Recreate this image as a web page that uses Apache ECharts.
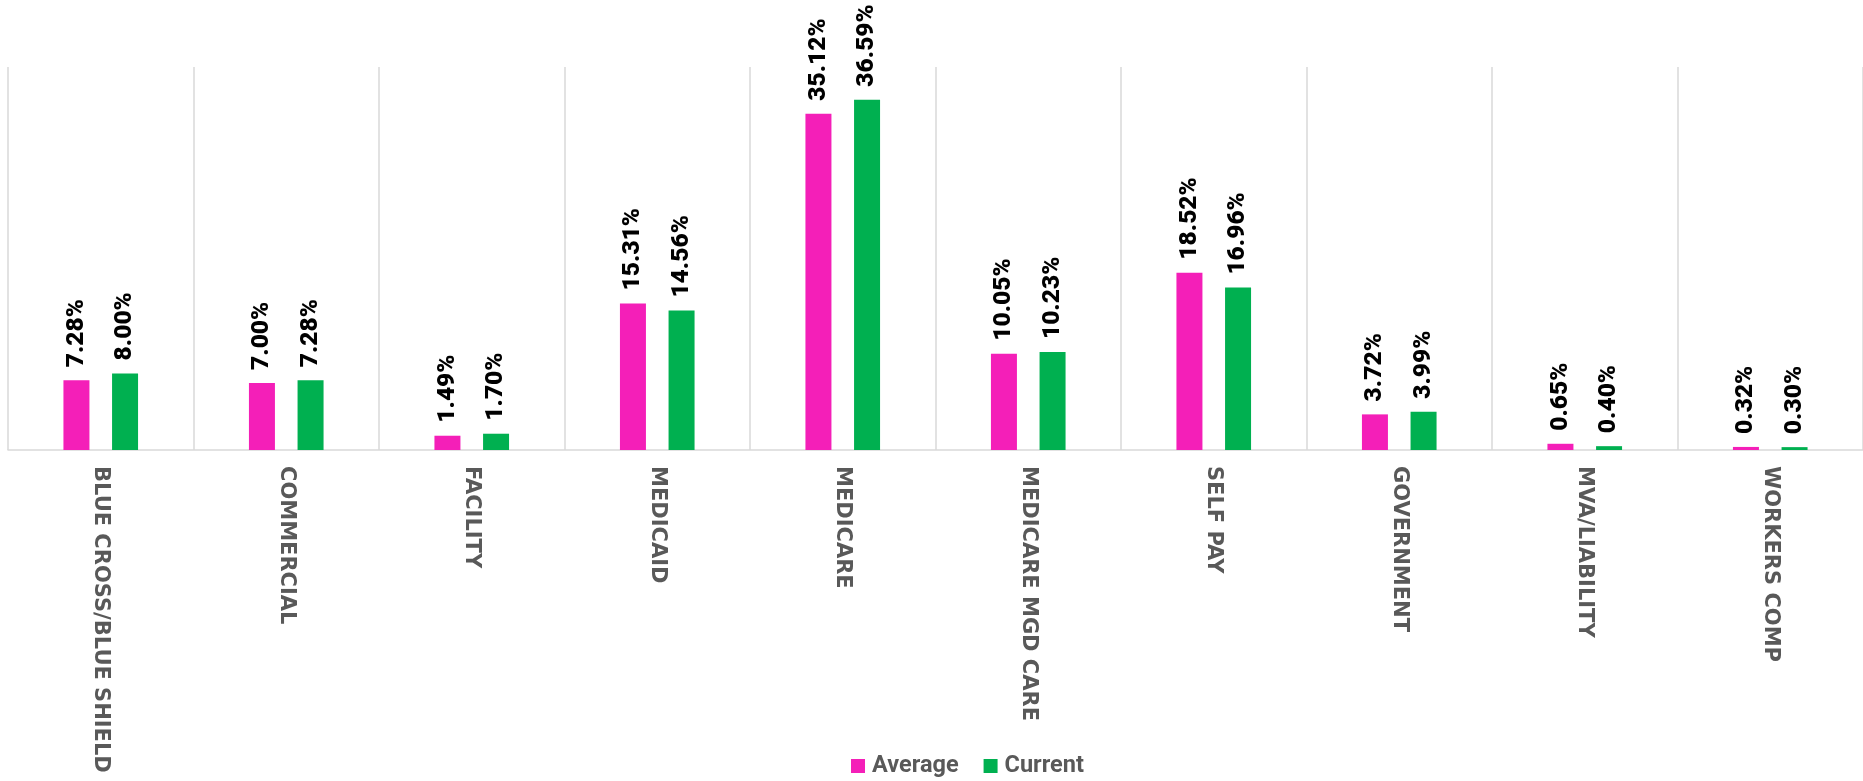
<!DOCTYPE html>
<html>
<head>
<meta charset="utf-8">
<script src="https://cdn.jsdelivr.net/npm/echarts@6/dist/echarts.min.js"></script>
<style>
html,body{margin:0;padding:0;background:#fff;}
#chart{width:1863px;height:781px;}
</style>
</head>
<body>
<div id="chart"></div>
<script>
const categories = ['BLUE CROSS/BLUE SHIELD','COMMERCIAL','FACILITY','MEDICAID','MEDICARE','MEDICARE MGD CARE','SELF PAY','GOVERNMENT','MVA/LIABILITY','WORKERS COMP'];
const averageValues = [7.28, 7.00, 1.49, 15.31, 35.12, 10.05, 18.52, 3.72, 0.65, 0.32];
const currentValues = [8.00, 7.28, 1.70, 14.56, 36.59, 10.23, 16.96, 3.99, 0.40, 0.30];
const seriesNames = ['Average', 'Current'];

const dataLabel = {
  show: true,
  position: 'top',
  rotate: 90,
  align: 'left',
  verticalAlign: 'middle',
  distance: 13,
  formatter: p => p.value.toFixed(2) + '%',
  fontFamily: "Roboto,'Liberation Sans',sans-serif",
  fontWeight: 900,
  fontSize: 24.5,
  color: '#000'
};

const chart = echarts.init(document.getElementById('chart'), null, {renderer: 'canvas'});
chart.setOption({
  animation: false,
  backgroundColor: '#fff',
  grid: {left: 8, top: 67, width: 1857, height: 383, containLabel: false},
  legend: {
    data: seriesNames,
    left: 846,
    top: 749,
    itemWidth: 14,
    itemHeight: 14,
    itemGap: 25,
    icon: 'rect',
    textStyle: {fontFamily: "Roboto,sans-serif", fontWeight: 'bold', fontSize: 23.5, color: '#595959', padding: [0,0,0,2]}
  },
  xAxis: {
    type: 'category',
    data: categories,
    axisLine: {lineStyle: {color: '#d9d9d9', width: 1.5}},
    axisTick: {show: false},
    splitLine: {show: true, lineStyle: {color: '#d9d9d9', width: 1.5}},
    axisLabel: {
      rotate: -90,
      margin: 16,
      interval: 0,
      fontFamily: "'DejaVu Sans',sans-serif",
      fontWeight: 'bold',
      fontSize: 21,
      color: '#595959'
    }
  },
  yAxis: {
    type: 'value',
    min: 0,
    max: 40,
    show: false,
    splitLine: {show: false}
  },
  series: [
    {name: seriesNames[0], type: 'bar', data: averageValues, barWidth: 26, barGap: '87%', itemStyle: {color: '#F41FB8'}, label: dataLabel},
    {name: seriesNames[1], type: 'bar', data: currentValues, barWidth: 26, itemStyle: {color: '#00B050'}, label: dataLabel}
  ]
});
</script>
</body>
</html>
